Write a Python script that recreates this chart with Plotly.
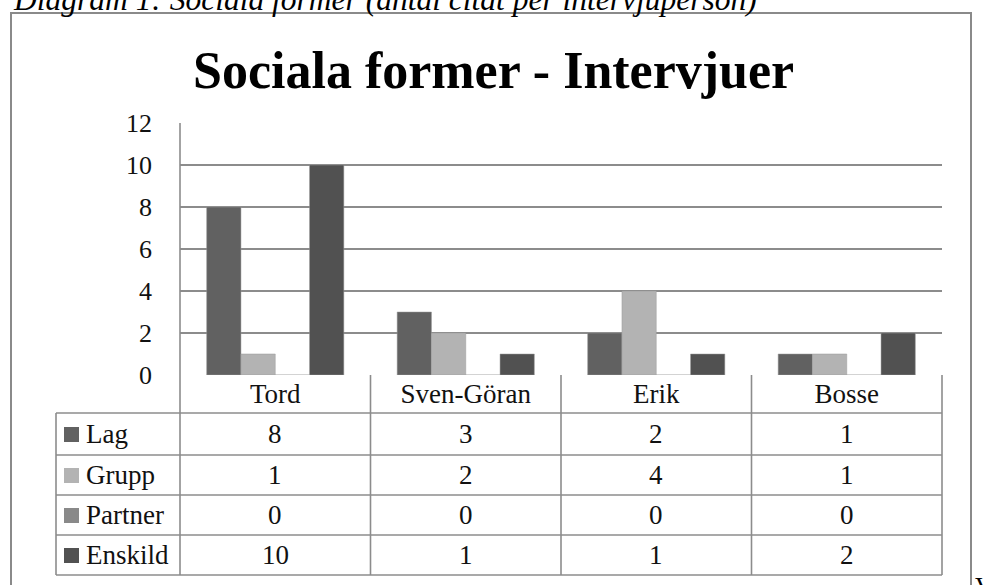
import plotly.graph_objects as go

# ---- data ----
categories = ["Tord", "Sven-Göran", "Erik", "Bosse"]
series_names = ["Lag", "Grupp", "Partner", "Enskild"]
lag = [8, 3, 2, 1]
grupp = [1, 2, 4, 1]
partner = [0, 0, 0, 0]
enskild = [10, 1, 1, 2]
y_ticks = [0, 2, 4, 6, 8, 10, 12]

series_values = [lag, grupp, partner, enskild]
colors = ["#616161", "#b3b3b3", "#898989", "#515151"]

title_text = "Sociala former - Intervjuer"
caption_text = "Diagram 1: Sociala former (antal citat per intervjuperson)"

# ---- layout geometry (pixels) ----
W, H = 984, 585
L, R, T, B = 180, 42, 123, 210
PW = W - L - R
PH = H - T - B
AX_Y = H - B  # pixel y of the x axis


def px_x(x):
    return (x - L) / PW


def px_y(y):
    return (AX_Y - y) / PH


SERIF = "Liberation Serif, Times New Roman, serif"
GRID = "#8c8c8c"
TXT = 27

fig = go.Figure()
for name, vals, col in zip(series_names, series_values, colors):
    fig.add_trace(go.Bar(
        x=categories, y=vals, name=name,
        marker=dict(color=col, line=dict(color="#9a9a9a", width=0.5)),
        showlegend=False,
    ))

shapes = []
line_style = dict(color=GRID, width=1.6)

header_bottom = 413
row_lines = [413, 455, 495, 535, 575]
table_left = 56

n = len(categories)
col_bounds = [k / n for k in range(n + 1)]  # category boundaries in paper coords

for yy in row_lines:
    shapes.append(dict(type="line", xref="paper", yref="paper",
                       x0=px_x(table_left), x1=1, y0=px_y(yy), y1=px_y(yy),
                       line=line_style))
for cb in col_bounds:
    top = T if cb == 0 else AX_Y
    shapes.append(dict(type="line", xref="paper", yref="paper",
                       x0=cb, x1=cb, y0=px_y(top), y1=px_y(row_lines[-1]),
                       line=line_style))
shapes.append(dict(type="line", xref="paper", yref="paper",
                   x0=px_x(table_left), x1=px_x(table_left),
                   y0=px_y(header_bottom), y1=px_y(row_lines[-1]),
                   line=line_style))

# outer frame
shapes.append(dict(type="rect", xref="paper", yref="paper",
                   x0=px_x(11), x1=px_x(971), y0=px_y(620), y1=px_y(13),
                   line=dict(color="#8a8a8a", width=2), fillcolor="rgba(0,0,0,0)",
                   layer="below"))

annotations = []
row_centers = [(row_lines[i] + row_lines[i + 1]) / 2 for i in range(len(row_lines) - 1)]
for name, vals, col, yc in zip(series_names, series_values, colors, row_centers):
    shapes.append(dict(type="rect", xref="paper", yref="paper",
                       x0=px_x(64), x1=px_x(79), y0=px_y(yc + 8), y1=px_y(yc - 7),
                       line=dict(width=0), fillcolor=col))
    annotations.append(dict(text=name, xref="paper", yref="paper",
                            x=px_x(84), y=px_y(yc), xanchor="left", yanchor="middle",
                            showarrow=False, font=dict(family=SERIF, size=TXT, color="#111")))
    for cat, v in zip(categories, vals):
        annotations.append(dict(text=str(v), xref="x", yref="paper",
                                x=cat, y=px_y(yc), xanchor="center", yanchor="middle",
                                showarrow=False, font=dict(family=SERIF, size=TXT, color="#111")))

# title
annotations.append(dict(text="<b>" + title_text + "</b>", xref="paper", yref="paper",
                        x=px_x(493), y=px_y(70), xanchor="center", yanchor="middle",
                        showarrow=False, font=dict(family=SERIF, size=52, color="#000")))
# caption (cut off at the top edge, as in the source)
annotations.append(dict(text="<i>" + caption_text + "</i>", xref="paper", yref="paper",
                        x=px_x(11), y=px_y(-1), xanchor="left", yanchor="middle",
                        showarrow=False, font=dict(family=SERIF, size=31.5, color="#000")))
# stray character at bottom right
annotations.append(dict(text="V", xref="paper", yref="paper",
                        x=px_x(973), y=px_y(570), xanchor="left", yanchor="top",
                        showarrow=False, font=dict(family=SERIF, size=26, color="#000")))

fig.update_layout(
    width=W, height=H,
    margin=dict(l=L, r=R, t=T, b=B, pad=0),
    paper_bgcolor="white", plot_bgcolor="white",
    barmode="group", bargap=0.28, bargroupgap=0,
    shapes=shapes, annotations=annotations,
    xaxis=dict(type="category", range=[-0.5, n - 0.5], showgrid=False, zeroline=False,
               showline=False, ticks="", tickfont=dict(family=SERIF, size=TXT, color="#111"),
               ticklabelstandoff=0, fixedrange=True),
    yaxis=dict(range=[0, 12], tickvals=y_ticks, showgrid=True, gridcolor=GRID, gridwidth=1.6,
               zeroline=False, showline=False, ticks="", ticklabelstandoff=27,
               tickfont=dict(family=SERIF, size=26, color="#111"), fixedrange=True),
)

fig.write_html("out.html", config={"displayModeBar": False},
               post_script="document.body.style.margin='0';document.body.style.overflow='hidden';")
